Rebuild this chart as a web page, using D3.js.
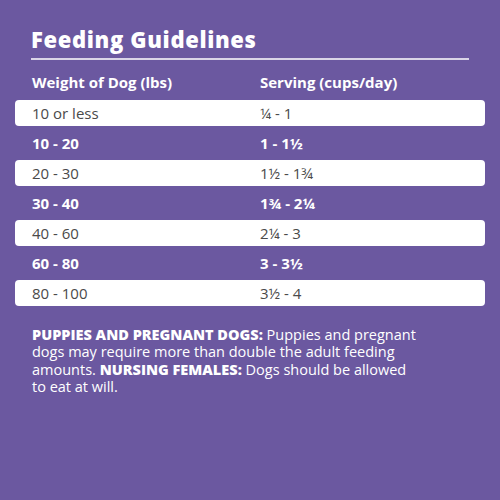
<!DOCTYPE html>
<html><head><meta charset="utf-8">
<script src="https://cdn.jsdelivr.net/npm/d3@7"></script>
<style>body{margin:0;background:#6b58a0}</style></head>
<body><svg id="c" width="500" height="500"></svg>
<script>
const title = "Feeding Guidelines";
const headers = ["Weight of Dog (lbs)", "Serving (cups/day)"];
const weights = ["10 or less","10 - 20","20 - 30","30 - 40","40 - 60","60 - 80","80 - 100"];
const servings = ["¼ - 1","1 - 1½","1½ - 1¾","1¾ - 2¼","2¼ - 3","3 - 3½","3½ - 4"];
const noteLines = [
  [["PUPPIES AND PREGNANT DOGS:",true],[" Puppies and pregnant",false]],
  [["dogs may require more than double the adult feeding",false]],
  [["amounts. ",false],["NURSING FEMALES:",true],[" Dogs should be allowed",false]],
  [["to eat at will.",false]]
];
const purple="#6b58a0", font="'Open Sans', sans-serif";
const svg=d3.select("#c").style("font-family",font);
svg.append("rect").attr("width",500).attr("height",500).attr("fill",purple);
svg.append("text").attr("x",31).attr("y",48).attr("fill","#fff").attr("font-size",22).attr("font-weight",800).attr("textLength",225).text(title);
svg.append("line").attr("x1",31).attr("x2",469).attr("y1",59).attr("y2",59).attr("stroke","#fff").attr("stroke-width",1.5);
const cx=d3.scaleOrdinal().domain([0,1]).range([32,260]);
svg.selectAll("text.h").data(headers).join("text").attr("class","h").attr("x",(d,i)=>cx(i)).attr("y",88)
 .attr("fill","#fff").attr("font-size",15).attr("font-weight",700).text(d=>d);
const y=d3.scaleBand().domain(d3.range(weights.length)).range([97,307]).paddingInner(0);
const g=svg.selectAll("g.r").data(weights).join("g").attr("class","r").attr("transform",(d,i)=>`translate(0,${y(i)})`);
g.filter((d,i)=>i%2===0).append("rect").attr("x",15).attr("y",3).attr("width",470).attr("height",26).attr("rx",4).attr("fill","#fff");
g.append("text").attr("x",cx(0)).attr("y",22).text(d=>d);
g.append("text").attr("x",cx(1)).attr("y",22).text((d,i)=>servings[i]);
g.selectAll("text").attr("font-size",15).attr("fill",function(){const i=weights.indexOf(d3.select(this.parentNode).datum());return i%2?"#fff":"#4a4a4a";})
 .attr("font-weight",function(){const i=weights.indexOf(d3.select(this.parentNode).datum());return i%2?700:400;});
const nt=svg.selectAll("text.n").data(noteLines).join("text").attr("class","n").attr("x",32).attr("y",(d,i)=>340+i*17.4)
 .attr("fill","#fff").attr("font-size",14.5);
nt.selectAll("tspan").data(d=>d).join("tspan").attr("font-weight",d=>d[1]?800:400).text(d=>d[0]);
</script></body></html>
